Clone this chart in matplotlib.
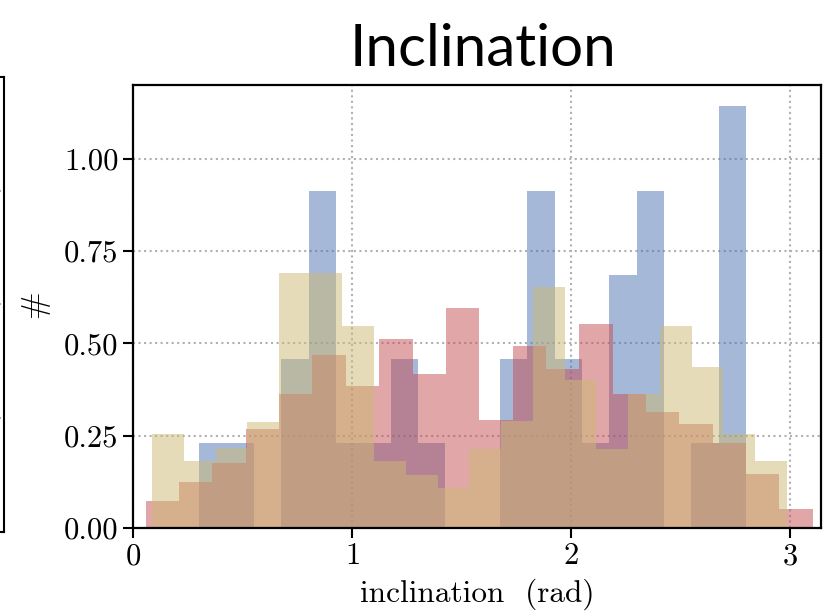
import numpy as np
import matplotlib
matplotlib.use("Agg")
import matplotlib.pyplot as plt
from matplotlib.ticker import FormatStrFormatter

plt.rcParams['font.family'] = 'serif'
plt.rcParams['font.serif'] = ['cmr10']
plt.rcParams['mathtext.fontset'] = 'cm'
plt.rcParams['axes.formatter.use_mathtext'] = True

# bin ranges (rad) and densities, 20 bins each
blue_range = (0.302, 2.799)
blue_density = [0.229, 0.229, 0.0, 0.457, 0.914, 0.229, 0.229, 0.457, 0.229, 0.0,
                0.0, 0.457, 0.914, 0.457, 0.229, 0.686, 0.914, 0.0, 0.229, 1.143]

red_range = (0.058, 3.104)
red_density = [0.073, 0.124, 0.175, 0.269, 0.364, 0.469, 0.386, 0.513, 0.418, 0.596,
               0.292, 0.492, 0.430, 0.553, 0.364, 0.313, 0.281, 0.230, 0.146, 0.051]

khaki_range = (0.087, 2.985)
khaki_density = [0.254, 0.181, 0.217, 0.287, 0.691, 0.691, 0.547, 0.181, 0.143, 0.108,
                 0.215, 0.289, 0.654, 0.400, 0.215, 0.364, 0.547, 0.436, 0.254, 0.181]

series = [
    (blue_range, blue_density, '#4c72b0'),
    (red_range, red_density, '#c44e52'),
    (khaki_range, khaki_density, '#ccb974'),
]

fig = plt.figure(figsize=(8.34, 6.11), dpi=100)

# sliver of the neighbouring panel on the left
ax0 = fig.add_axes([-0.2, 0.1293, 0.2042, 0.745])
ax0.set_xticks([])
ax0.set_yticks([0.25, 0.5, 0.75])
ax0.set_ylim(0, 1)
ax0.tick_params(labelleft=False, length=0)
ax0.grid(axis='y', linestyle=':', color='#b0b0b0', linewidth=1.5)
for s in ax0.spines.values():
    s.set_linewidth(1.5)

ax = fig.add_axes([0.1595, 0.1358, 0.8249, 0.7251])
for (lo, hi), dens, col in series:
    edges = np.linspace(lo, hi, len(dens) + 1)
    ax.hist(edges[:-1], bins=edges, weights=dens, color=col, alpha=0.5)

ax.set_xlim(0, np.pi)
ax.set_ylim(0, 1.2)
ax.set_xticks([0, 1, 2, 3])
ax.set_yticks([0, 0.25, 0.5, 0.75, 1.0])
ax.yaxis.set_major_formatter(FormatStrFormatter('%.2f'))
ax.tick_params(labelsize=22, length=7, width=1.5, direction='out')
ax.grid(True, linestyle=':', color='#b0b0b0', linewidth=1.5)
ax.set_axisbelow(True)
for s in ax.spines.values():
    s.set_linewidth(1.6)

ax.set_xlabel('inclination  (rad)', fontsize=22.5, labelpad=6)
ax.set_ylabel(r'$\#$', fontsize=24, labelpad=8)
ax.set_title('Inclination', fontsize=42, family='Lato', pad=14, x=0.508)

fig.savefig('out.png', dpi=100)
